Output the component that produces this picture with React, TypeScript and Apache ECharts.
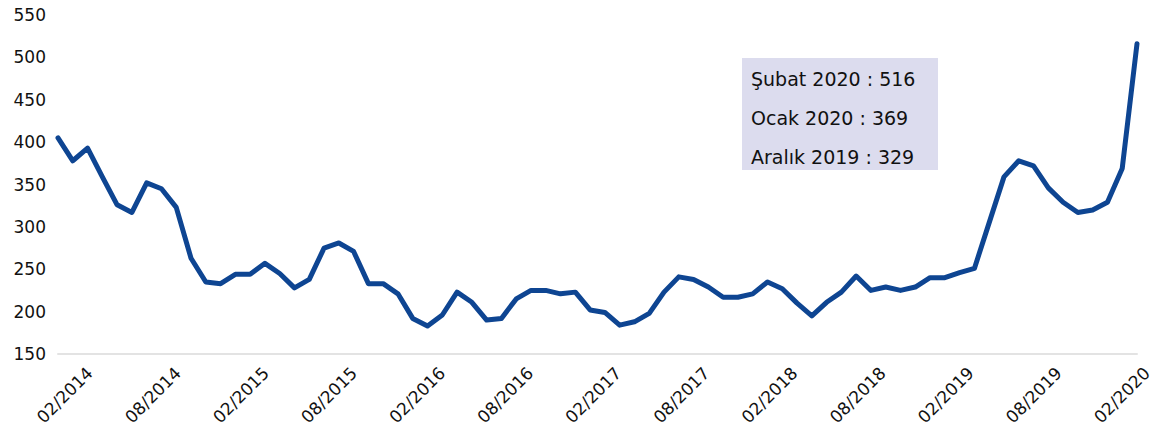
import React, { useEffect, useRef } from "react";
import * as echarts from "echarts";

// Monthly categories: 01/2014 ... 02/2020
const months: string[] = [];
for (let y = 2014; y <= 2020; y++) {
  for (let m = 1; m <= 12; m++) {
    if (y === 2020 && m > 2) break;
    months.push(String(m).padStart(2, "0") + "/" + y);
  }
}

const values: number[] = [
  405, 378, 393, 359, 326, 317, 352, 345, 323, 263, 235, 233,
  244, 244, 257, 245, 228, 238, 275, 281, 271, 233, 233, 221,
  192, 183, 196, 223, 211, 190, 192, 215, 225, 225, 221, 223,
  202, 199, 184, 188, 198, 223, 241, 238, 229, 217, 217, 221,
  235, 227, 210, 195, 211, 223, 242, 225, 229, 225, 229, 240,
  240, 246, 251, 305, 359, 378, 372, 346, 329, 317, 320, 329,
  369, 516,
];

const yTicks = { min: 150, max: 550, interval: 50 };

const noteNames: string[] = ["Şubat 2020", "Ocak 2020", "Aralık 2019"];
const noteValues: number[] = [516, 369, 329];

const FONT = "'DejaVu Sans', sans-serif";

export default function App() {
  const ref = useRef<HTMLDivElement>(null);
  useEffect(() => {
    if (!ref.current) return;
    const chart = echarts.init(ref.current, undefined, { renderer: "svg" });
    const labelInterval = (i: number) => (i - 1) % 6 === 0;
    chart.setOption({
      animation: false,
      backgroundColor: "#ffffff",
      grid: [
        { left: 58, right: 18, top: 15, bottom: 87 },
        { left: 75, right: 1, top: 15, bottom: 87 },
      ],
      xAxis: [
        {
          type: "category",
          gridIndex: 0,
          data: months,
          boundaryGap: false,
          axisLine: { show: true, lineStyle: { color: "#e3e3e3", width: 2 } },
          axisTick: { show: false },
          axisLabel: { show: false },
          splitLine: { show: false },
        },
        {
          type: "category",
          gridIndex: 1,
          data: months,
          boundaryGap: false,
          axisLine: { show: false },
          axisTick: { show: false },
          splitLine: { show: false },
          axisLabel: {
            interval: labelInterval,
            rotate: 45,
            margin: 16,
            color: "#111111",
            fontSize: 17,
            fontFamily: FONT,
          },
        },
      ],
      yAxis: [
        {
          type: "value",
          gridIndex: 0,
          min: yTicks.min,
          max: yTicks.max,
          interval: yTicks.interval,
          axisLine: { show: false },
          axisTick: { show: false },
          splitLine: { show: false },
          axisLabel: {
            margin: 12,
            color: "#111111",
            fontSize: 17,
            fontFamily: FONT,
          },
        },
        {
          type: "value",
          gridIndex: 1,
          min: yTicks.min,
          max: yTicks.max,
          interval: yTicks.interval,
          show: false,
        },
      ],
      series: [
        {
          type: "line",
          xAxisIndex: 0,
          yAxisIndex: 0,
          data: values,
          symbol: "none",
          lineStyle: { color: "#0e4592", width: 5, cap: "round", join: "round" },
        },
      ],
      graphic: [
        {
          type: "rect",
          left: 742,
          top: 58,
          shape: { width: 196, height: 112 },
          style: { fill: "#dcdcee" },
        },
        ...noteNames.map((n, k) => ({
          type: "text",
          x: 751,
          y: 79 + k * 39,
          style: {
            text: n + " : " + noteValues[k],
            fill: "#111111",
            font: `19px ${FONT}`,
            verticalAlign: "middle",
          },
        })),
      ],
    });
    return () => chart.dispose();
  }, []);
  return (
    <div
      ref={ref}
      style={{ position: "fixed", left: 0, top: 0, width: 1155, height: 441 }}
    />
  );
}
